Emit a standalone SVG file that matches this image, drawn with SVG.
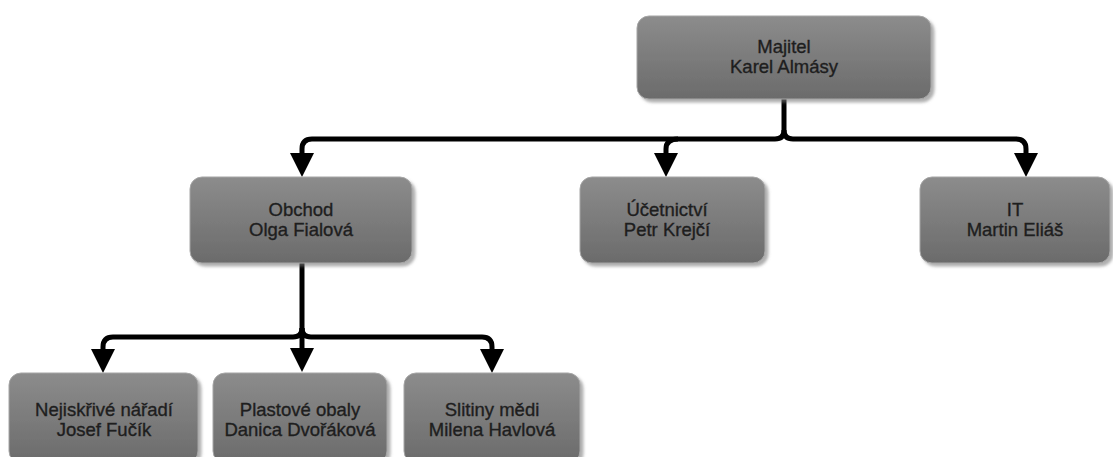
<svg xmlns="http://www.w3.org/2000/svg" width="1113" height="457" viewBox="0 0 1113 457">
  <defs>
    <linearGradient id="boxFill" x1="0" y1="0" x2="0" y2="1">
      <stop offset="0" stop-color="#8c8c8c"/>
      <stop offset="1" stop-color="#6b6b6b"/>
    </linearGradient>
    <filter id="shadow" x="-10%" y="-10%" width="125%" height="130%">
      <feDropShadow dx="3" dy="3" stdDeviation="1.5" flood-color="#7a7a7a" flood-opacity="0.6"/>
    </filter>
    <marker id="arrow" markerUnits="userSpaceOnUse" markerWidth="24" markerHeight="24" refX="0" refY="12" orient="auto" overflow="visible">
      <path d="M0,0 L24,12 L0,24 Z" fill="#000"/>
    </marker>
    <style>
      .box { fill: url(#boxFill); stroke: #a6a6a6; stroke-width: 1; filter: url(#shadow); }
      .label { font-family: "Liberation Sans", Arial, sans-serif; font-size: 18.5px; fill: #1e1e1e; stroke: #1e1e1e; stroke-width: 0.35px; text-anchor: middle; }
      .wire { fill: none; stroke: #000; stroke-width: 5; }
      .tip { fill: none; stroke: #000; stroke-width: 5; marker-end: url(#arrow); }
    </style>
  </defs>

  <!-- connectors -->
  <g id="connectors">
    <!-- owner to departments -->
    <path class="wire" d="M784,99 V130"/>
    <path class="tip" d="M784,130 Q784,139 775,139 H312 Q302,139 302,149 V153"/>
    <path class="tip" d="M784,130 Q784,139 793,139 H1016 Q1026,139 1026,149 V153"/>
    <path class="tip" d="M678,139 Q666,139 666,149 V153"/>
    <!-- sales to product lines -->
    <path class="wire" d="M302,263 V328"/>
    <path class="tip" d="M302,328 Q302,337 293,337 H113 Q103,337 103,347 V349"/>
    <path class="tip" d="M302,328 Q302,337 311,337 H482 Q492,337 492,347 V349"/>
    <path class="tip" d="M302,328 V348"/>
  </g>

  <g id="node-majitel">
    <rect class="box" x="637" y="16" width="294" height="83" rx="12"/>
    <text class="label" x="784" y="53">Majitel</text>
    <text class="label" x="784" y="73">Karel Almásy</text>
  </g>

  <g id="node-obchod">
    <rect class="box" x="190" y="177" width="222" height="86" rx="12"/>
    <text class="label" x="301" y="216">Obchod</text>
    <text class="label" x="301" y="236">Olga Fialová</text>
  </g>

  <g id="node-ucetnictvi">
    <rect class="box" x="580" y="177" width="185" height="86" rx="12"/>
    <text class="label" x="667" y="216">Účetnictví</text>
    <text class="label" x="667" y="236">Petr Krejčí</text>
  </g>

  <g id="node-it">
    <rect class="box" x="920" y="177" width="190" height="86" rx="12"/>
    <text class="label" x="1015" y="216">IT</text>
    <text class="label" x="1015" y="236">Martin Eliáš</text>
  </g>

  <g id="node-naradi">
    <rect class="box" x="9" y="373" width="189" height="90" rx="12"/>
    <text class="label" x="104" y="416">Nejiskřivé nářadí</text>
    <text class="label" x="104" y="436">Josef Fučík</text>
  </g>

  <g id="node-obaly">
    <rect class="box" x="213" y="373" width="174" height="90" rx="12"/>
    <text class="label" x="300" y="416">Plastové obaly</text>
    <text class="label" x="300" y="436">Danica Dvořáková</text>
  </g>

  <g id="node-slitiny">
    <rect class="box" x="404" y="373" width="176" height="90" rx="12"/>
    <text class="label" x="492" y="416">Slitiny mědi</text>
    <text class="label" x="492" y="436">Milena Havlová</text>
  </g>
</svg>
